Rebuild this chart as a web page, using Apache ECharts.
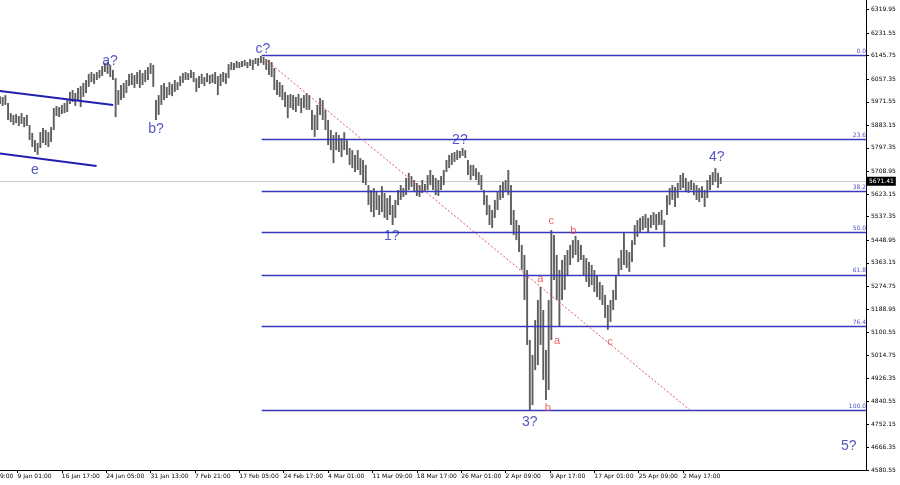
<!DOCTYPE html>
<html><head><meta charset="utf-8">
<script src="https://cdn.jsdelivr.net/npm/echarts@6/dist/echarts.min.js"></script>
<style>html,body{margin:0;padding:0;background:#fff}#c{width:900px;height:485px}</style>
</head><body><div id="c"></div>
<script>
// 8-hour bars (two H4 bars each), high / low prices
const barHigh = [5993,5990,5997,5967,5929,5922,5925,5918,5929,5914,5922,5884,5854,5827,5816,5857,5873,5865,5857,5876,
5948,5956,5952,5960,5967,5978,6009,6016,6005,6024,6031,6043,6054,6077,6084,6077,6084,6092,6107,6118,
6122,6111,6092,6061,6016,6035,6043,6054,6077,6080,6073,6084,6092,6080,6092,6103,6118,6111,5978,5997,
6035,6043,6028,6046,6039,6054,6046,6069,6080,6084,6080,6092,6084,6061,6069,6077,6065,6080,6073,6077,
6084,6069,6077,6084,6080,6114,6122,6118,6126,6122,6126,6130,6122,6133,6130,6137,6137,6145,6141,6133,
6130,6122,6099,6054,6046,6035,6009,5997,6001,5997,5990,6001,5986,5997,6005,5997,5941,5922,5960,5986,
5978,5941,5903,5865,5846,5857,5846,5835,5857,5827,5797,5789,5771,5789,5759,5752,5733,5657,5638,5646,
5631,5619,5653,5627,5608,5619,5582,5601,5638,5657,5646,5684,5703,5691,5676,5665,5657,5676,5661,5695,
5714,5695,5684,5676,5691,5714,5752,5771,5778,5782,5789,5786,5797,5789,5752,5733,5733,5721,5706,5695,
5638,5619,5582,5563,5601,5631,5657,5669,5676,5714,5657,5563,5525,5506,5431,5393,5336,5072,5015,5147,
5223,5272,5185,5034,5223,5487,5468,5393,5336,5374,5393,5412,5431,5449,5465,5449,5431,5393,5381,5366,
5355,5336,5317,5291,5279,5242,5204,5223,5261,5317,5381,5412,5476,5412,5404,5449,5506,5525,5533,5540,
5548,5533,5544,5555,5548,5555,5563,5525,5619,5646,5657,5650,5665,5695,5703,5684,5669,5676,5665,5657,
5646,5653,5638,5676,5695,5706,5721,5703,5687];
const barLow = [5963,5956,5960,5903,5895,5884,5891,5880,5888,5876,5880,5827,5801,5782,5771,5797,5816,5808,5801,5820,
5865,5918,5914,5925,5929,5933,5963,5971,5956,5978,5952,5990,6005,6028,6046,6039,6054,6061,6069,6084,
6077,6065,6054,5914,5960,5978,5986,6005,6031,6035,6024,6039,6024,6035,6046,6054,6077,6028,5903,5922,
5960,5978,5986,5997,5993,6009,6016,6031,6043,6054,6054,6061,6046,6009,6024,6039,6031,6046,6039,6043,
6039,5997,6031,6046,6039,6061,6092,6092,6099,6099,6103,6107,6099,6107,6092,6114,6107,6118,6111,6092,
6073,6065,6016,5997,5990,5978,5952,5910,5948,5941,5933,5956,5929,5948,5941,5941,5865,5839,5865,5922,
5903,5865,5808,5789,5740,5789,5782,5763,5789,5771,5733,5721,5706,5714,5695,5665,5657,5582,5555,5536,
5563,5544,5555,5533,5525,5544,5506,5533,5582,5601,5612,5619,5638,5650,5631,5616,5612,5627,5631,5638,
5657,5638,5619,5616,5638,5657,5706,5721,5733,5744,5752,5759,5767,5759,5695,5676,5691,5676,5657,5638,
5582,5544,5506,5495,5533,5563,5601,5608,5631,5619,5506,5468,5449,5404,5336,5223,5053,4807,4826,4958,
4977,5053,4921,4845,4883,5072,5298,5223,5121,5223,5261,5317,5355,5381,5393,5366,5374,5317,5291,5272,
5279,5253,5234,5223,5204,5155,5110,5140,5185,5223,5317,5336,5355,5344,5329,5366,5431,5461,5480,5487,
5495,5476,5495,5506,5487,5506,5506,5423,5544,5582,5601,5574,5608,5638,5646,5631,5627,5638,5619,5601,
5593,5608,5574,5608,5638,5657,5669,5646,5661];
const lastPrice = 5671.41;

const yTickValues = [6319.95,6231.55,6145.75,6057.35,5971.55,5883.15,5797.35,5708.95,5623.15,5537.35,5448.95,
5363.15,5274.75,5188.95,5100.55,5014.75,4926.35,4840.55,4752.15,4666.35,4580.55];
const xTickBars = [-10,6.5,23,39.5,56,72.5,89,105.5,122,138.5,155,171.5,188,204.5,221,237.5,254];
const xTickLabels = ['31 Dec 09:00','9 Jan 01:00','16 Jan 17:00','24 Jan 05:00','31 Jan 13:00','7 Feb 21:00',
'17 Feb 05:00','24 Feb 17:00','4 Mar 01:00','11 Mar 09:00','18 Mar 17:00','26 Mar 01:00','2 Apr 09:00',
'9 Apr 17:00','17 Apr 01:00','25 Apr 09:00','2 May 17:00'];

const fibLevels = ['0.0','23.6','38.2','50.0','61.8','76.4','100.0'];
const fibPrices = [6146,5830,5634,5477,5318,5123,4807];
const fibStartBar = 97.3;

const waveText = ['e','a?','b?','c?','1?','2?','3?','4?','5?'];
const waveBar = [13,40.9,58,97.8,145.7,171,197,266.5,315.6];
const wavePrice = [5714,6126,5869,6171,5465,5827,4762,5763,4671];
const subText = ['c','b','a','a','b','c'];
const subBar = [205,213.2,200.9,207.1,203.7,226.8];
const subPrice = [5521,5483,5302,5068,4815,5064];

const channelUpper = [[-11,6026],[42.1,5959.5]];
const channelLower = [[-11,5791],[35.9,5729]];
const trendLine = [[98.9,6129.5],[256.5,4807]];

const X_MIN = -11, X_MAX = 322, Y_MIN = 4580.55, Y_MAX = 6356.2;

const chart = echarts.init(document.getElementById('c'), null, {renderer:'canvas'});
const bars = barHigh.map((h,i)=>[i, barLow[i], h]);

const fibLines = fibPrices.map((p,i)=>[
  {coord:[fibStartBar,p], label:{formatter:fibLevels[i]}},
  {coord:[X_MAX,p]}
]);

chart.setOption({
  animation:false,
  backgroundColor:'#ffffff',
  grid:{left:-29.6, right:34, top:0, bottom:15, containLabel:false, outerBoundsMode:'none'},
  xAxis:{
    type:'value', min:X_MIN, max:X_MAX,
    axisLine:{show:true, onZero:false, lineStyle:{color:'#000', width:1}},
    axisTick:{show:true, length:3, customValues:xTickBars, lineStyle:{color:'#000'}},
    axisLabel:{show:true, customValues:xTickBars, align:'left', margin:3,
      fontFamily:'DejaVu Sans', fontSize:6, color:'#000',
      formatter:v=>{const i=xTickBars.indexOf(v);return i>=0?xTickLabels[i]:'';}},
    splitLine:{show:false}
  },
  yAxis:{
    type:'value', position:'right', min:Y_MIN, max:Y_MAX,
    axisLine:{show:true, onZero:false, lineStyle:{color:'#000', width:1}},
    axisTick:{show:true, length:3, customValues:yTickValues, lineStyle:{color:'#000'}},
    axisLabel:{show:true, customValues:yTickValues, margin:5, padding:[5,0,0,0],
      fontFamily:'DejaVu Sans', fontSize:6, color:'#000',
      formatter:v=>v.toFixed(2)},
    splitLine:{show:false}
  },
  series:[
    {
      type:'custom', z:2, silent:true,
      data:bars, encode:{x:0, y:[1,2]},
      renderItem:(params, api)=>{
        const x = api.value(0);
        const a = api.coord([x, api.value(2)]);
        const b = api.coord([x, api.value(1)]);
        return {type:'line', shape:{x1:a[0], y1:a[1], x2:b[0], y2:b[1]},
          style:{stroke:'#5e5e5e', lineWidth:1.9}};
      }
    },
    {
      type:'line', z:1, silent:true, data:[], symbol:'none',
      markLine:{symbol:['none','none'], silent:true, z:1,
        lineStyle:{color:'#c8c8c8', width:1, type:'solid'},
        label:{show:true, position:'end', distance:1, backgroundColor:'#000', color:'#fff',
          fontFamily:'DejaVu Sans', fontSize:6, padding:[2,2,1,2], formatter:()=>lastPrice.toFixed(2)},
        data:[{yAxis:lastPrice}]}
    },
    {
      type:'line', z:5, silent:true, data:trendLine, symbol:'none',
      lineStyle:{color:'#e05858', width:1, type:[2,2]},
      markLine:{symbol:['none','none'], silent:true,
        lineStyle:{color:'#3838c0', width:1.3, type:'solid'},
        label:{show:true, position:'insideEndTop', distance:[0,1], color:'#5050d0',
          fontFamily:'DejaVu Sans', fontSize:6},
        data:fibLines}
    },
    {type:'line', z:5, silent:true, data:channelUpper, symbol:'none', lineStyle:{color:'#2020b0', width:2}},
    {type:'line', z:5, silent:true, data:channelLower, symbol:'none', lineStyle:{color:'#2020b0', width:2}},
    {
      type:'scatter', z:6, silent:true, symbolSize:0,
      data:waveText.map((t,i)=>({name:t, value:[waveBar[i], wavePrice[i]]})),
      label:{show:true, position:'inside', formatter:'{b}', color:'#2c2cb8',
        fontFamily:'Liberation Sans', fontSize:14}
    },
    {
      type:'scatter', z:6, silent:true, symbolSize:0,
      data:subText.map((t,i)=>({name:t, value:[subBar[i], subPrice[i]]})),
      label:{show:true, position:'inside', formatter:'{b}', color:'#e03c3c',
        fontFamily:'Liberation Sans', fontSize:11}
    }
  ]
});
</script>
</body></html>
